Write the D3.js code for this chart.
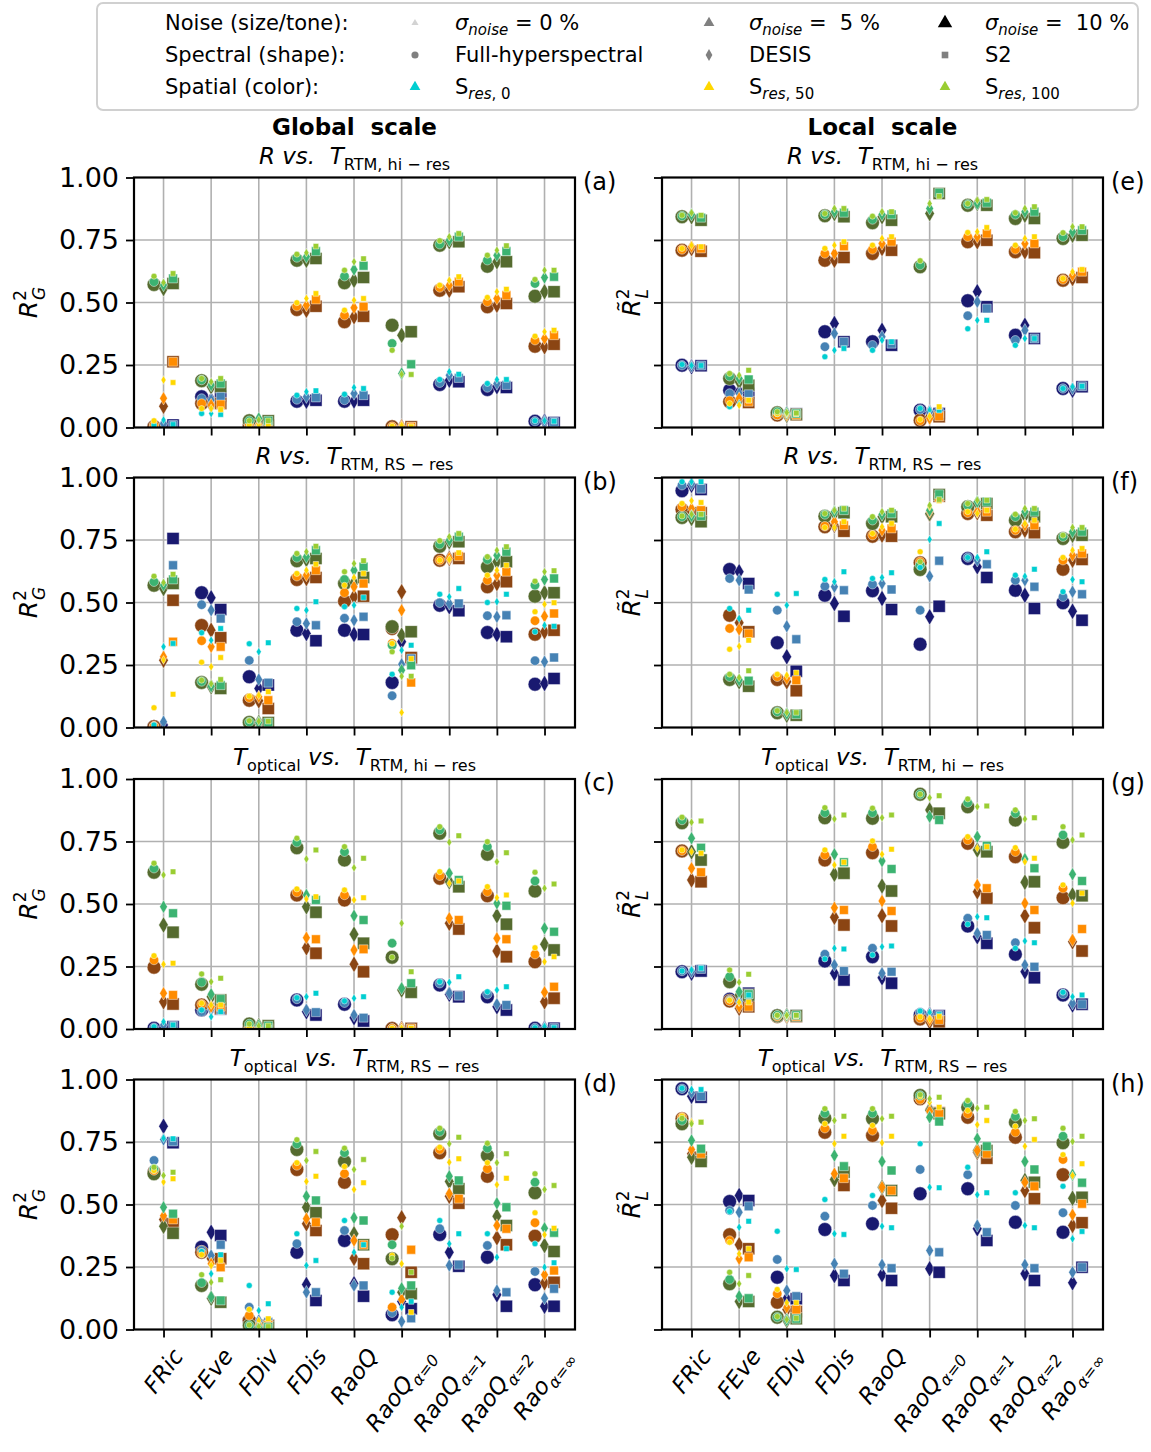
<!DOCTYPE html>
<html>
<head>
<meta charset="utf-8">
<script src="https://cdn.jsdelivr.net/npm/d3@7"></script>
<style>
  body { margin: 0; background: #fff; }
  text { font-family: "DejaVu Sans", sans-serif; white-space: pre; }
</style>
</head>
<body>
<svg id="paper"></svg>
<script>
// categories and tick labels
const categories = ["FRic", "FEve", "FDiv", "FDis", "RaoQ", "RaoQ", "RaoQ", "RaoQ", "Rao"];
const catSubs = ["", "", "", "", "", "\u03b1=0", "\u03b1=1", "\u03b1=2", "\u03b1=\u221e"];
const yTicks = [0, 0.25, 0.5, 0.75, 1];

// each array: rows = noise 0 %, 5 %, 10 %; per category [full-hyperspectral, DESIS, S2]
// ---------- (a) global, R vs T_RTM,hi-res
const a_s0 = [
  [[0.01,0.03,0.012],[0.056,0.056,0.052],[0.008,0.008,0.008],[0.129,0.143,0.147],[0.133,0.16,0.156],[0.003,0.003,0.003],[0.192,0.223,0.213],[0.176,0.192,0.192],[0.027,0.027,0.025]],
  [[0.005,0.015,0.01],[0.116,0.11,0.123],[0.006,0.006,0.006],[0.112,0.123,0.12],[0.11,0.136,0.129],[0.002,0.002,0.002],[0.179,0.209,0.198],[0.16,0.176,0.17],[0.025,0.025,0.022]],
  [[0.003,0.01,0.01],[0.123,0.11,0.125],[0.005,0.005,0.005],[0.105,0.105,0.109],[0.105,0.106,0.109],[0.001,0.001,0.001],[0.172,0.189,0.183],[0.152,0.163,0.16],[0.025,0.025,0.02]]
];
const a_s50 = [
  [[0.027,0.19,0.18],[0.076,0.076,0.072],[0.01,0.01,0.01],[0.499,0.516,0.536],[0.469,0.509,0.516],[0.005,0.008,0.003],[0.569,0.589,0.603],[0.52,0.543,0.553],[0.365,0.383,0.389]],
  [[0.01,0.117,0.263],[0.096,0.09,0.092],[0.01,0.01,0.01],[0.485,0.489,0.512],[0.449,0.479,0.483],[0.003,0.005,0.003],[0.56,0.569,0.583],[0.503,0.516,0.529],[0.349,0.356,0.369]],
  [[0.003,0.085,0.263],[0.096,0.09,0.096],[0.01,0.01,0.01],[0.472,0.469,0.485],[0.423,0.443,0.445],[0.003,0.003,0.003],[0.549,0.549,0.563],[0.483,0.489,0.496],[0.325,0.323,0.333]]
];
const a_s100 = [
  [[0.605,0.58,0.616],[0.196,0.183,0.196],[0.027,0.03,0.027],[0.693,0.699,0.725],[0.629,0.663,0.675],[0.309,0.213,0.212],[0.747,0.763,0.776],[0.689,0.709,0.727],[0.592,0.629,0.629]],
  [[0.583,0.57,0.596],[0.19,0.17,0.176],[0.027,0.036,0.027],[0.68,0.683,0.705],[0.605,0.632,0.647],[0.336,0.216,0.253],[0.733,0.749,0.763],[0.669,0.689,0.705],[0.576,0.6,0.603]],
  [[0.572,0.556,0.576],[0.187,0.163,0.163],[0.027,0.027,0.027],[0.669,0.669,0.676],[0.579,0.589,0.6],[0.409,0.369,0.383],[0.729,0.743,0.743],[0.645,0.663,0.663],[0.525,0.543,0.543]]
];
// ---------- (b) global, R vs T_RTM,RS-res
const b_s0 = [
  [[0.01,0.323,0.336],[0.379,0.349,0.396],[0.335,0.303,0.339],[0.476,0.469,0.503],[0.483,0.489,0.52],[0.213,0.309,0.329],[0.533,0.523,0.556],[0.5,0.503,0.533],[0.383,0.409,0.405]],
  [[0.005,0.023,0.649],[0.491,0.469,0.436],[0.268,0.192,0.179],[0.423,0.416,0.409],[0.437,0.429,0.443],[0.127,0.253,0.276],[0.499,0.496,0.496],[0.447,0.443,0.449],[0.267,0.263,0.28]],
  [[0.003,0.01,0.756],[0.539,0.519,0.472],[0.203,0.156,0.17],[0.389,0.376,0.347],[0.389,0.372,0.372],[0.18,0.343,0.276],[0.489,0.483,0.467],[0.38,0.372,0.363],[0.173,0.176,0.196]]
];
const b_s50 = [
  [[0.079,0.27,0.133],[0.261,0.243,0.28],[0.125,0.129,0.143],[0.616,0.629,0.653],[0.569,0.6,0.616],[0.336,0.06,0.275],[0.669,0.672,0.699],[0.609,0.629,0.649],[0.463,0.493,0.499]],
  [[0.005,0.283,0.343],[0.347,0.323,0.323],[0.119,0.123,0.109],[0.605,0.61,0.629],[0.539,0.563,0.576],[0.336,0.469,0.18],[0.669,0.676,0.685],[0.589,0.609,0.623],[0.427,0.445,0.456]],
  [[0.003,0.269,0.509],[0.408,0.389,0.359],[0.109,0.107,0.076],[0.592,0.596,0.6],[0.505,0.523,0.525],[0.396,0.543,0.28],[0.669,0.676,0.676],[0.563,0.576,0.583],[0.373,0.383,0.389]]
];
const b_s100 = [
  [[0.605,0.58,0.613],[0.189,0.175,0.192],[0.027,0.025,0.025],[0.696,0.703,0.725],[0.623,0.656,0.667],[0.303,0.205,0.205],[0.747,0.763,0.776],[0.683,0.709,0.723],[0.585,0.623,0.627]],
  [[0.583,0.57,0.592],[0.184,0.165,0.169],[0.022,0.02,0.02],[0.68,0.683,0.709],[0.592,0.629,0.643],[0.329,0.229,0.249],[0.733,0.749,0.763],[0.672,0.689,0.703],[0.569,0.592,0.596]],
  [[0.569,0.556,0.576],[0.18,0.163,0.156],[0.02,0.02,0.02],[0.667,0.672,0.676],[0.576,0.579,0.6],[0.403,0.369,0.383],[0.725,0.743,0.743],[0.643,0.663,0.663],[0.525,0.539,0.539]]
];
// ---------- (c) global, T_optical vs T_RTM,hi-res
const c_s0 = [
  [[0.009,0.029,0.016],[0.076,0.049,0.069],[0.005,0.005,0.005],[0.125,0.129,0.143],[0.112,0.123,0.129],[0.003,0.003,0.003],[0.189,0.187,0.209],[0.149,0.156,0.169],[0.005,0.01,0.005]],
  [[0.005,0.016,0.013],[0.069,0.08,0.076],[0.004,0.004,0.004],[0.12,0.076,0.067],[0.105,0.056,0.045],[0.002,0.002,0.002],[0.183,0.143,0.133],[0.139,0.099,0.096],[0.004,0.005,0.004]],
  [[0.003,0.005,0.009],[0.076,0.083,0.08],[0.003,0.003,0.003],[0.116,0.069,0.056],[0.099,0.045,0.032],[0.001,0.001,0.001],[0.176,0.139,0.129],[0.129,0.089,0.076],[0.003,0.003,0.003]]
];
const c_s50 = [
  [[0.293,0.259,0.263],[0.103,0.096,0.096],[0.006,0.006,0.006],[0.56,0.52,0.529],[0.556,0.516,0.525],[0.003,0.003,0.003],[0.629,0.583,0.592],[0.569,0.525,0.536],[0.325,0.269,0.289]],
  [[0.276,0.143,0.136],[0.099,0.089,0.089],[0.005,0.005,0.005],[0.547,0.365,0.359],[0.536,0.316,0.319],[0.002,0.002,0.002],[0.613,0.443,0.436],[0.549,0.363,0.359],[0.299,0.147,0.169]],
  [[0.247,0.109,0.1],[0.096,0.089,0.083],[0.004,0.004,0.004],[0.536,0.325,0.303],[0.516,0.259,0.229],[0.002,0.002,0.002],[0.603,0.423,0.4],[0.533,0.312,0.289],[0.269,0.109,0.123]]
];
const c_s100 = [
  [[0.663,0.616,0.629],[0.22,0.189,0.203],[0.02,0.013,0.013],[0.763,0.68,0.716],[0.729,0.645,0.683],[0.287,0.423,0.229],[0.809,0.747,0.773],[0.749,0.669,0.705],[0.627,0.563,0.58]],
  [[0.643,0.489,0.463],[0.187,0.139,0.12],[0.02,0.013,0.013],[0.747,0.536,0.516],[0.709,0.453,0.436],[0.343,0.163,0.183],[0.796,0.623,0.596],[0.729,0.503,0.493],[0.592,0.403,0.389]],
  [[0.627,0.416,0.387],[0.179,0.129,0.116],[0.02,0.013,0.013],[0.725,0.489,0.467],[0.676,0.379,0.343],[0.287,0.156,0.147],[0.783,0.589,0.569],[0.699,0.453,0.419],[0.552,0.339,0.316]]
];
// ---------- (d) global, T_optical vs T_RTM,RS-res
const d_s0 = [
  [[0.649,0.765,0.763],[0.312,0.223,0.299],[0.176,0.076,0.103],[0.383,0.256,0.276],[0.436,0.309,0.339],[0.149,0.089,0.112],[0.436,0.343,0.383],[0.383,0.289,0.323],[0.343,0.249,0.267]],
  [[0.676,0.76,0.752],[0.316,0.296,0.339],[0.089,0.036,0.03],[0.343,0.149,0.149],[0.396,0.176,0.176],[0.067,0.032,0.045],[0.403,0.256,0.259],[0.336,0.156,0.149],[0.232,0.125,0.163]],
  [[0.629,0.813,0.747],[0.329,0.389,0.376],[0.036,0.023,0.016],[0.309,0.18,0.116],[0.356,0.183,0.133],[0.059,0.112,0.083],[0.38,0.309,0.253],[0.289,0.139,0.093],[0.179,0.093,0.093]]
];
const d_s50 = [
  [[0.636,0.59,0.603],[0.299,0.256,0.276],[0.08,0.036,0.043],[0.667,0.592,0.613],[0.652,0.56,0.587],[0.296,0.263,0.069],[0.729,0.669,0.683],[0.667,0.579,0.605],[0.467,0.379,0.405]],
  [[0.636,0.455,0.44],[0.305,0.263,0.249],[0.056,0.018,0.018],[0.656,0.443,0.429],[0.623,0.356,0.339],[0.089,0.12,0.319],[0.72,0.543,0.523],[0.643,0.416,0.403],[0.427,0.219,0.236]],
  [[0.629,0.44,0.423],[0.309,0.283,0.283],[0.036,0.018,0.016],[0.64,0.423,0.396],[0.589,0.285,0.263],[0.379,0.447,0.229],[0.707,0.533,0.505],[0.613,0.367,0.339],[0.373,0.187,0.189]]
];
const d_s100 = [
  [[0.649,0.616,0.629],[0.219,0.189,0.199],[0.018,0.012,0.012],[0.759,0.676,0.712],[0.725,0.64,0.68],[0.285,0.413,0.229],[0.805,0.743,0.769],[0.745,0.667,0.703],[0.623,0.56,0.576]],
  [[0.643,0.489,0.463],[0.187,0.13,0.116],[0.016,0.01,0.01],[0.742,0.533,0.516],[0.707,0.447,0.436],[0.339,0.165,0.176],[0.792,0.613,0.596],[0.725,0.505,0.489],[0.589,0.405,0.387]],
  [[0.623,0.413,0.385],[0.176,0.125,0.109],[0.016,0.009,0.009],[0.72,0.489,0.467],[0.672,0.383,0.339],[0.283,0.149,0.143],[0.783,0.592,0.563],[0.696,0.453,0.416],[0.547,0.336,0.312]]
];
// ---------- (e) local, R vs T_RTM,hi-res
const e_s0 = [
  [[0.252,0.248,0.248],[0.083,0.096,0.109],[0.055,0.055,0.055],[0.283,0.309,0.316],[0.309,0.349,0.343],[0.076,0.07,0.069],[0.395,0.429,0.429],[0.329,0.356,0.356],[0.156,0.163,0.165]],
  [[0.249,0.245,0.248],[0.136,0.136,0.133],[0.055,0.055,0.055],[0.323,0.376,0.343],[0.329,0.363,0.335],[0.072,0.063,0.058],[0.447,0.503,0.476],[0.349,0.389,0.356],[0.156,0.156,0.165]],
  [[0.249,0.243,0.247],[0.149,0.143,0.136],[0.055,0.055,0.055],[0.383,0.416,0.343],[0.343,0.389,0.329],[0.069,0.06,0.056],[0.507,0.543,0.483],[0.369,0.409,0.356],[0.156,0.149,0.163]]
];
const e_s50 = [
  [[0.716,0.729,0.723],[0.096,0.089,0.109],[0.055,0.055,0.055],[0.716,0.729,0.743],[0.729,0.756,0.763],[0.032,0.045,0.083],[0.78,0.783,0.8],[0.729,0.756,0.763],[0.596,0.623,0.632]],
  [[0.712,0.723,0.716],[0.107,0.116,0.103],[0.05,0.05,0.05],[0.696,0.696,0.725],[0.712,0.736,0.743],[0.027,0.036,0.045],[0.763,0.763,0.776],[0.712,0.736,0.736],[0.592,0.609,0.623]],
  [[0.709,0.716,0.705],[0.103,0.11,0.1],[0.05,0.05,0.05],[0.669,0.669,0.68],[0.696,0.716,0.709],[0.029,0.043,0.043],[0.743,0.743,0.749],[0.703,0.703,0.699],[0.589,0.596,0.6]]
];
const e_s100 = [
  [[0.849,0.859,0.849],[0.216,0.209,0.229],[0.063,0.06,0.058],[0.856,0.876,0.876],[0.845,0.863,0.863],[0.667,0.896,0.925],[0.896,0.909,0.912],[0.859,0.876,0.883],[0.779,0.803,0.803]],
  [[0.846,0.852,0.839],[0.205,0.196,0.192],[0.063,0.058,0.056],[0.852,0.863,0.859],[0.832,0.852,0.852],[0.65,0.876,0.939],[0.893,0.896,0.899],[0.852,0.863,0.863],[0.763,0.783,0.789]],
  [[0.843,0.843,0.829],[0.196,0.183,0.169],[0.059,0.049,0.053],[0.847,0.856,0.843],[0.819,0.843,0.829],[0.643,0.856,0.936],[0.889,0.896,0.889],[0.836,0.849,0.836],[0.756,0.769,0.769]]
];
// ---------- (f) local, R vs T_RTM,RS-res
const f_s0 = [
  [[0.983,0.983,0.983],[0.476,0.436,0.469],[0.533,0.489,0.536],[0.592,0.583,0.623],[0.596,0.6,0.619],[0.64,0.752,0.816],[0.68,0.68,0.703],[0.609,0.605,0.633],[0.543,0.592,0.583]],
  [[0.969,0.975,0.955],[0.596,0.589,0.552],[0.469,0.405,0.353],[0.565,0.563,0.549],[0.573,0.576,0.552],[0.469,0.605,0.667],[0.68,0.669,0.653],[0.589,0.589,0.563],[0.523,0.543,0.533]],
  [[0.947,0.969,0.952],[0.632,0.623,0.576],[0.339,0.283,0.225],[0.529,0.496,0.445],[0.547,0.516,0.472],[0.333,0.443,0.485],[0.676,0.643,0.6],[0.549,0.529,0.476],[0.499,0.465,0.429]]
];
const f_s50 = [
  [[0.896,0.907,0.9],[0.313,0.325,0.349],[0.213,0.209,0.219],[0.8,0.8,0.823],[0.776,0.803,0.816],[0.703,0.883,0.907],[0.863,0.856,0.869],[0.793,0.816,0.829],[0.68,0.709,0.716]],
  [[0.883,0.876,0.869],[0.396,0.392,0.376],[0.203,0.196,0.189],[0.805,0.823,0.809],[0.769,0.789,0.796],[0.663,0.863,0.92],[0.859,0.863,0.863],[0.789,0.809,0.809],[0.669,0.689,0.696]],
  [[0.872,0.863,0.859],[0.449,0.419,0.383],[0.192,0.183,0.147],[0.803,0.809,0.785],[0.765,0.769,0.765],[0.659,0.853,0.925],[0.856,0.859,0.849],[0.783,0.789,0.779],[0.633,0.669,0.672]]
];
const f_s100 = [
  [[0.846,0.853,0.853],[0.213,0.2,0.227],[0.067,0.06,0.06],[0.856,0.869,0.876],[0.843,0.863,0.869],[0.663,0.889,0.912],[0.896,0.909,0.909],[0.853,0.876,0.876],[0.769,0.8,0.8]],
  [[0.843,0.846,0.846],[0.203,0.19,0.187],[0.063,0.055,0.053],[0.852,0.863,0.869],[0.829,0.852,0.856],[0.649,0.869,0.933],[0.889,0.903,0.903],[0.843,0.863,0.863],[0.763,0.783,0.783]],
  [[0.84,0.836,0.823],[0.192,0.183,0.165],[0.059,0.049,0.049],[0.845,0.856,0.859],[0.816,0.843,0.843],[0.632,0.856,0.932],[0.883,0.896,0.896],[0.829,0.849,0.843],[0.756,0.769,0.769]]
];
// ---------- (g) local, T_optical vs T_RTM,hi-res
const g_s0 = [
  [[0.232,0.236,0.243],[0.116,0.109,0.136],[0.053,0.053,0.053],[0.28,0.323,0.32],[0.296,0.329,0.332],[0.072,0.067,0.058],[0.419,0.449,0.445],[0.323,0.352,0.345],[0.147,0.129,0.136]],
  [[0.232,0.23,0.24],[0.116,0.109,0.139],[0.053,0.053,0.053],[0.299,0.256,0.232],[0.323,0.223,0.229],[0.067,0.06,0.056],[0.443,0.383,0.376],[0.345,0.256,0.249],[0.14,0.103,0.099]],
  [[0.229,0.223,0.232],[0.119,0.109,0.143],[0.053,0.053,0.053],[0.272,0.223,0.196],[0.289,0.205,0.183],[0.056,0.058,0.053],[0.412,0.369,0.343],[0.299,0.229,0.205],[0.136,0.096,0.099]]
];
const g_s50 = [
  [[0.716,0.709,0.703],[0.115,0.107,0.107],[0.053,0.053,0.053],[0.716,0.656,0.667],[0.752,0.699,0.719],[0.048,0.04,0.05],[0.769,0.723,0.729],[0.725,0.669,0.683],[0.576,0.503,0.543]],
  [[0.713,0.643,0.627],[0.112,0.089,0.089],[0.05,0.05,0.05],[0.696,0.485,0.476],[0.729,0.512,0.472],[0.043,0.036,0.036],[0.756,0.576,0.563],[0.709,0.503,0.476],[0.563,0.356,0.4]],
  [[0.712,0.596,0.589],[0.112,0.083,0.089],[0.05,0.05,0.05],[0.676,0.447,0.416],[0.705,0.453,0.412],[0.04,0.029,0.029],[0.743,0.549,0.523],[0.689,0.453,0.405],[0.525,0.349,0.312]]
];
const g_s100 = [
  [[0.847,0.827,0.832],[0.236,0.187,0.219],[0.055,0.055,0.055],[0.885,0.84,0.856],[0.883,0.845,0.856],[0.939,0.925,0.933],[0.92,0.889,0.892],[0.876,0.84,0.845],[0.809,0.756,0.776]],
  [[0.836,0.763,0.725],[0.209,0.149,0.139],[0.055,0.055,0.055],[0.865,0.699,0.667],[0.865,0.672,0.64],[0.939,0.849,0.836],[0.905,0.769,0.733],[0.863,0.68,0.643],[0.776,0.619,0.592]],
  [[0.825,0.709,0.676],[0.189,0.136,0.136],[0.053,0.053,0.053],[0.845,0.619,0.623],[0.843,0.572,0.552],[0.939,0.876,0.863],[0.889,0.716,0.709],[0.836,0.587,0.589],[0.747,0.536,0.533]]
];
// ---------- (h) local, T_optical vs T_RTM,RS-res
const h_s0 = [
  [[0.965,0.96,0.96],[0.472,0.409,0.433],[0.393,0.243,0.24],[0.52,0.383,0.38],[0.536,0.413,0.407],[0.743,0.569,0.567],[0.649,0.539,0.547],[0.547,0.416,0.407],[0.573,0.363,0.392]],
  [[0.963,0.947,0.933],[0.476,0.469,0.493],[0.28,0.156,0.133],[0.453,0.263,0.223],[0.496,0.259,0.245],[0.64,0.316,0.309],[0.619,0.416,0.389],[0.496,0.259,0.245],[0.467,0.229,0.249]],
  [[0.963,0.933,0.929],[0.512,0.536,0.516],[0.209,0.123,0.123],[0.4,0.216,0.196],[0.423,0.219,0.196],[0.543,0.243,0.229],[0.563,0.403,0.356],[0.429,0.223,0.196],[0.389,0.187,0.249]]
];
const h_s50 = [
  [[0.853,0.83,0.83],[0.349,0.303,0.323],[0.16,0.107,0.107],[0.823,0.743,0.773],[0.816,0.747,0.773],[0.933,0.909,0.889],[0.876,0.819,0.836],[0.813,0.733,0.76],[0.699,0.616,0.663]],
  [[0.849,0.72,0.703],[0.356,0.283,0.289],[0.143,0.089,0.08],[0.805,0.623,0.605],[0.796,0.569,0.556],[0.92,0.873,0.863],[0.863,0.716,0.703],[0.789,0.589,0.573],[0.68,0.459,0.503]],
  [[0.843,0.703,0.689],[0.379,0.339,0.323],[0.109,0.08,0.072],[0.789,0.6,0.576],[0.776,0.516,0.485],[0.923,0.88,0.867],[0.849,0.709,0.685],[0.769,0.556,0.523],[0.619,0.416,0.427]]
];
const h_s100 = [
  [[0.845,0.823,0.829],[0.229,0.183,0.216],[0.052,0.04,0.045],[0.883,0.836,0.853],[0.883,0.843,0.853],[0.939,0.923,0.929],[0.916,0.885,0.889],[0.872,0.836,0.843],[0.805,0.752,0.773]],
  [[0.836,0.756,0.723],[0.2,0.133,0.125],[0.049,0.038,0.043],[0.865,0.696,0.653],[0.865,0.672,0.636],[0.936,0.849,0.832],[0.903,0.763,0.733],[0.852,0.672,0.64],[0.773,0.619,0.587]],
  [[0.823,0.689,0.672],[0.183,0.112,0.112],[0.049,0.036,0.043],[0.845,0.6,0.629],[0.843,0.569,0.556],[0.936,0.876,0.863],[0.889,0.716,0.716],[0.829,0.596,0.589],[0.747,0.525,0.529]]
];

// styles
// spatial level -> [noise 0, noise 5, noise 10]
const colors = [
  ["#00ced1", "#4682b4", "#191970"],
  ["#ffd700", "#ff8c00", "#8b4513"],
  ["#9acd32", "#3cb371", "#556b2f"]
];
const shapes = [d3.symbolCircle, d3.symbolDiamond, d3.symbolSquare];
// symbol areas per shape and noise level
const sizes = [
  [28, 70, 150],
  [22, 52, 80],
  [30, 78, 150]
];

const width = 1151, height = 1452;
const colX = [134, 662], rowY = [177.5, 477.5, 779, 1079.5];
const pw = 441, ph = 250;

const svg = d3.select("#paper").attr("width", width).attr("height", height);

const x = d3.scaleLinear().domain([-0.62, 8.64]).range([0, pw]);
const y = d3.scaleLinear().domain([0, 1]).range([ph, 0]);

const panels = [
  {id: "a", col: 0, row: 0, data: [a_s0, a_s50, a_s100]},
  {id: "b", col: 0, row: 1, data: [b_s0, b_s50, b_s100]},
  {id: "c", col: 0, row: 2, data: [c_s0, c_s50, c_s100]},
  {id: "d", col: 0, row: 3, data: [d_s0, d_s50, d_s100]},
  {id: "e", col: 1, row: 0, data: [e_s0, e_s50, e_s100]},
  {id: "f", col: 1, row: 1, data: [f_s0, f_s50, f_s100]},
  {id: "g", col: 1, row: 2, data: [g_s0, g_s50, g_s100]},
  {id: "h", col: 1, row: 3, data: [h_s0, h_s50, h_s100]}
];

const rowTitles = [
  {first: "R", firstSub: "", res: "RTM, hi \u2212 res"},
  {first: "R", firstSub: "", res: "RTM, RS \u2212 res"},
  {first: "T", firstSub: "optical", res: "RTM, hi \u2212 res"},
  {first: "T", firstSub: "optical", res: "RTM, RS \u2212 res"}
];

function mathTitle(cx, by, t) {
  const txt = svg.append("text").attr("x", cx).attr("y", by)
    .attr("text-anchor", "middle").style("font-size", "23px");
  txt.append("tspan").style("font-style", "italic").text(t.first);
  let down = false;
  if (t.firstSub) {
    txt.append("tspan").attr("dy", 6).style("font-size", "16px").text(t.firstSub);
    down = true;
  }
  txt.append("tspan").attr("dy", down ? -6 : 0).style("font-style", "italic").text(" vs.  T");
  txt.append("tspan").attr("dy", 6).style("font-size", "16px").text(t.res);
}

panels.forEach(p => {
  const ox = colX[p.col], oy = rowY[p.row];
  const g = svg.append("g").attr("transform", "translate(" + ox + "," + oy + ")");

  // grid
  g.selectAll(".vg").data(d3.range(9)).enter().append("line")
    .attr("x1", d => x(d)).attr("x2", d => x(d)).attr("y1", 0).attr("y2", ph)
    .style("stroke", "#b0b0b0").style("stroke-width", 1.6);
  g.selectAll(".hg").data([0.25, 0.5, 0.75]).enter().append("line")
    .attr("x1", 0).attr("x2", pw).attr("y1", d => y(d)).attr("y2", d => y(d))
    .style("stroke", "#b0b0b0").style("stroke-width", 1.6);

  // points, largest (10 %) first so the small ones stay on top
  g.append("clipPath").attr("id", "clip" + p.id)
    .append("rect").attr("width", pw).attr("height", ph);
  const pts = [];
  [2, 1, 0].forEach(n => {
    p.data.forEach((sp, s) => {
      sp[n].forEach((trip, i) => {
        trip.forEach((v, j) => pts.push({cat: i, shape: j, s: s, n: n, v: v}));
      });
    });
  });
  g.append("g").attr("clip-path", "url(#clip" + p.id + ")")
    .selectAll("path").data(pts).enter().append("path")
    .attr("transform", d => "translate(" + x(d.cat + (d.shape - 1) * 0.2) + "," + y(d.v) + ")")
    .attr("d", d => d3.symbol().type(shapes[d.shape]).size(sizes[d.shape][d.n])())
    .style("fill", d => colors[d.s][d.n])
    .style("stroke", "#ffffff").style("stroke-opacity", 0.45).style("stroke-width", 1);

  // axes
  const ya = d3.axisLeft(y).tickValues(yTicks).tickSize(8).tickSizeOuter(0).tickPadding(7)
    .tickFormat(p.col === 0 ? d3.format(".2f") : "");
  const yg = g.append("g").call(ya);
  yg.selectAll("text").style("font-size", "27px").style("font-family", "DejaVu Sans");
  const xa = d3.axisBottom(x).tickValues(d3.range(9)).tickSize(8).tickSizeOuter(0).tickFormat("");
  const xg = g.append("g").attr("transform", "translate(0," + ph + ")").call(xa);
  [yg, xg].forEach(a => {
    a.select(".domain").remove();
    a.selectAll("line").style("stroke", "#000").style("stroke-width", 1.8);
  });
  g.append("rect").attr("width", pw).attr("height", ph)
    .style("fill", "none").style("stroke", "#000").style("stroke-width", 2.2);

  // panel letter
  svg.append("text").attr("x", ox + pw + 8).attr("y", oy + 12)
    .style("font-size", "24px").text("(" + p.id + ")");

  // y label
  const yl = svg.append("text")
    .attr("transform", "translate(" + (ox - (p.col === 0 ? 97 : 22)) + "," + (oy + ph / 2) + ") rotate(-90)")
    .attr("text-anchor", "middle").style("font-size", "25px");
  yl.append("tspan").style("font-style", "italic").text(p.col === 0 ? "R" : "R\u0303");
  yl.append("tspan").attr("dy", -11).style("font-size", "17px").text("2");
  yl.append("tspan").attr("dx", -10).attr("dy", 19).style("font-size", "17px")
    .style("font-style", "italic").text(p.col === 0 ? "G" : "L");

  // subtitle
  mathTitle(ox + pw / 2, oy - 14, rowTitles[p.row]);

  // x tick labels on bottom row
  if (p.row === 3) {
    categories.forEach((c, i) => {
      const lg = svg.append("g");
      const t = lg.append("text").attr("transform", "rotate(-53)")
        .attr("text-anchor", "middle").style("font-style", "italic").style("font-size", "23px");
      t.append("tspan").text(c);
      if (catSubs[i]) t.append("tspan").attr("dy", 6).style("font-size", "16px").text(catSubs[i]);
      const bb = lg.node().getBBox();
      lg.attr("transform", "translate(" + (ox + x(i) - (bb.x + bb.width / 2)) + "," + (oy + ph + 14 - bb.y) + ")");
    });
  }
});

// column headers
svg.append("text").attr("x", colX[0] + pw / 2).attr("y", 135).attr("text-anchor", "middle")
  .style("font-size", "23px").style("font-weight", "bold").text("Global  scale");
svg.append("text").attr("x", colX[1] + pw / 2).attr("y", 135).attr("text-anchor", "middle")
  .style("font-size", "23px").style("font-weight", "bold").text("Local  scale");

// legend
const lg = svg.append("g");
lg.append("rect").attr("x", 97).attr("y", 3).attr("width", 1041).attr("height", 107).attr("rx", 6)
  .style("fill", "#fff").style("stroke", "#d0d0d0").style("stroke-width", 2);
const rowsY = [23, 55, 87];
const headX = 165, mX = [415, 709, 945], tX = [455, 749, 985];
const heads = ["Noise (size/tone):", "Spectral (shape):", "Spatial (color):"];
heads.forEach((h, r) => lg.append("text").attr("x", headX).attr("y", rowsY[r] + 7)
  .style("font-size", "21px").text(h));

const legMarks = [
  [{t: d3.symbolTriangle, s: 22, c: "#d3d3d3"}, {t: d3.symbolTriangle, s: 50, c: "#808080"}, {t: d3.symbolTriangle, s: 90, c: "#000000"}],
  [{t: d3.symbolCircle, s: 40, c: "#808080"}, {t: d3.symbolDiamond, s: 40, c: "#808080"}, {t: d3.symbolSquare, s: 44, c: "#808080"}],
  [{t: d3.symbolTriangle, s: 50, c: colors[0][0]}, {t: d3.symbolTriangle, s: 50, c: colors[1][0]}, {t: d3.symbolTriangle, s: 50, c: colors[2][0]}]
];
legMarks.forEach((row, r) => row.forEach((m, k) => {
  lg.append("path").attr("transform", "translate(" + mX[k] + "," + rowsY[r] + ")")
    .attr("d", d3.symbol().type(m.t).size(m.s)()).style("fill", m.c);
}));

const noiseVals = ["= 0 %", "=  5 %", "=  10 %"];
noiseVals.forEach((v, k) => {
  const t = lg.append("text").attr("x", tX[k]).attr("y", rowsY[0] + 7).style("font-size", "21px");
  t.append("tspan").style("font-style", "italic").text("\u03c3");
  t.append("tspan").attr("dy", 5).style("font-size", "15px").style("font-style", "italic").text("noise");
  t.append("tspan").attr("dy", -5).text(" " + v);
});
["Full-hyperspectral", "DESIS", "S2"].forEach((v, k) => {
  lg.append("text").attr("x", tX[k]).attr("y", rowsY[1] + 7).style("font-size", "21px").text(v);
});
["0", "50", "100"].forEach((v, k) => {
  const t = lg.append("text").attr("x", tX[k]).attr("y", rowsY[2] + 7).style("font-size", "21px");
  t.append("tspan").text("S");
  t.append("tspan").attr("dy", 5).style("font-size", "15px").style("font-style", "italic").text("res");
  t.append("tspan").style("font-size", "15px").text(", " + v);
});
</script>
</body>
</html>
